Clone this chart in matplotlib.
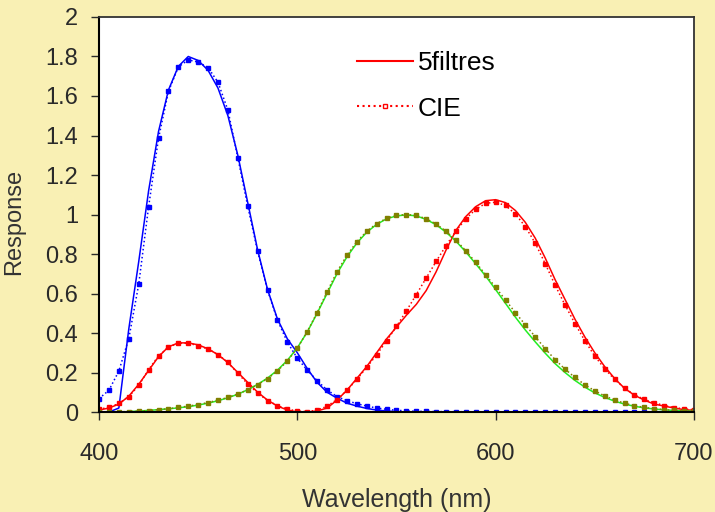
import matplotlib.pyplot as plt
from matplotlib.lines import Line2D

wavelength = list(range(400, 705, 5))

# CIE 1931 colour matching functions (5 nm)
cie_x = [0.0143, 0.0232, 0.0435, 0.0776, 0.1344, 0.2148, 0.2839, 0.3285, 0.3483, 0.3481,
         0.3362, 0.3187, 0.2908, 0.2511, 0.1954, 0.1421, 0.0956, 0.0580, 0.0320, 0.0147,
         0.0049, 0.0024, 0.0093, 0.0291, 0.0633, 0.1096, 0.1655, 0.2258, 0.2904, 0.3597,
         0.4335, 0.5121, 0.5945, 0.6784, 0.7621, 0.8425, 0.9163, 0.9786, 1.0263, 1.0567,
         1.0622, 1.0456, 1.0026, 0.9384, 0.8545, 0.7514, 0.6424, 0.5419, 0.4479, 0.3608,
         0.2835, 0.2187, 0.1649, 0.1212, 0.0874, 0.0636, 0.0468, 0.0329, 0.0227, 0.0158,
         0.0114]
cie_y = [0.0004, 0.0006, 0.0012, 0.0022, 0.0040, 0.0073, 0.0116, 0.0168, 0.0230, 0.0298,
         0.0380, 0.0480, 0.0600, 0.0739, 0.0910, 0.1126, 0.1390, 0.1693, 0.2080, 0.2586,
         0.3230, 0.4073, 0.5030, 0.6082, 0.7100, 0.7932, 0.8620, 0.9149, 0.9540, 0.9803,
         0.9950, 1.0000, 0.9950, 0.9786, 0.9520, 0.9154, 0.8700, 0.8163, 0.7570, 0.6949,
         0.6310, 0.5668, 0.5030, 0.4412, 0.3810, 0.3210, 0.2650, 0.2170, 0.1750, 0.1382,
         0.1070, 0.0816, 0.0610, 0.0446, 0.0320, 0.0232, 0.0170, 0.0119, 0.0082, 0.0057,
         0.0041]
cie_z = [0.0679, 0.1102, 0.2074, 0.3713, 0.6456, 1.0391, 1.3856, 1.6230, 1.7471, 1.7826,
         1.7721, 1.7441, 1.6692, 1.5281, 1.2876, 1.0419, 0.8130, 0.6162, 0.4652, 0.3533,
         0.2720, 0.2123, 0.1582, 0.1117, 0.0783, 0.0573, 0.0422, 0.0298, 0.0203, 0.0134,
         0.0088, 0.0058, 0.0039, 0.0028, 0.0021, 0.0018, 0.0017, 0.0014, 0.0011, 0.0010,
         0.0008, 0.0006, 0.0003, 0.0002, 0.0002, 0.0001, 0.0, 0.0, 0.0, 0.0,
         0.0, 0.0, 0.0, 0.0, 0.0, 0.0, 0.0, 0.0, 0.0, 0.0,
         0.0]

# 5-filter approximation
filt_x = [0.010, 0.020, 0.040, 0.080, 0.140, 0.210, 0.280, 0.330, 0.350, 0.350,
          0.340, 0.320, 0.290, 0.250, 0.200, 0.150, 0.100, 0.060, 0.030, 0.010,
          0.000, 0.000, 0.005, 0.020, 0.060, 0.110, 0.170, 0.230, 0.300, 0.370,
          0.430, 0.490, 0.545, 0.615, 0.710, 0.820, 0.920, 0.990, 1.040, 1.070,
          1.075, 1.060, 1.020, 0.960, 0.880, 0.780, 0.670, 0.570, 0.470, 0.380,
          0.300, 0.230, 0.170, 0.120, 0.085, 0.060, 0.040, 0.030, 0.020, 0.012,
          0.008]
filt_y = [0.000, 0.000, 0.000, 0.002, 0.005, 0.008, 0.012, 0.016, 0.021, 0.027,
          0.035, 0.045, 0.057, 0.072, 0.090, 0.113, 0.140, 0.172, 0.212, 0.262,
          0.325, 0.405, 0.500, 0.600, 0.700, 0.785, 0.855, 0.910, 0.950, 0.978,
          0.993, 0.998, 0.993, 0.975, 0.948, 0.910, 0.865, 0.810, 0.750, 0.688,
          0.620, 0.550, 0.480, 0.415, 0.355, 0.298, 0.245, 0.200, 0.160, 0.126,
          0.097, 0.074, 0.055, 0.040, 0.029, 0.021, 0.015, 0.011, 0.008, 0.006,
          0.004]
filt_z = [0.000, 0.000, 0.020, 0.420, 0.760, 1.120, 1.420, 1.630, 1.750, 1.800,
          1.780, 1.730, 1.640, 1.500, 1.300, 1.060, 0.820, 0.620, 0.470, 0.370,
          0.300, 0.220, 0.150, 0.100, 0.070, 0.045, 0.030, 0.018, 0.010, 0.005,
          0.002, 0.000, 0.000, 0.000, 0.000, 0.000, 0.000, 0.000, 0.000, 0.000,
          0.000, 0.000, 0.000, 0.000, 0.000, 0.000, 0.000, 0.000, 0.000, 0.000,
          0.000, 0.000, 0.000, 0.000, 0.000, 0.000, 0.000, 0.000, 0.000, 0.000,
          0.000]

y_ticks = [0, 0.2, 0.4, 0.6, 0.8, 1, 1.2, 1.4, 1.6, 1.8, 2]
y_tick_labels = ['0', '0.2', '0.4', '0.6', '0.8', '1', '1.2', '1.4', '1.6', '1.8', '2']
x_ticks = [400, 500, 600, 700]

plt.rcParams['font.family'] = ['Liberation Sans', 'DejaVu Sans']

fig = plt.figure(figsize=(7.15, 5.12), dpi=100, facecolor='#f9f0b4')
ax = fig.add_axes([0.1385, 0.1953, 0.832, 0.7715])
ax.set_facecolor('white')

# filter curves
ax.plot(wavelength, filt_z, color='#0000ff', lw=1.1)
ax.plot(wavelength, filt_x, color='#ff0000', lw=1.1)
ax.plot(wavelength, filt_y, color='#22ee22', lw=1.1)

# CIE curves
ax.plot(wavelength, cie_z, color='#0000ff', ls=':', lw=1.1, marker='s', ms=3.2)
ax.plot(wavelength, cie_x, color='#ff0000', ls=':', lw=1.1, marker='s', ms=3.2)
ax.plot(wavelength, cie_y, color='#808000', ls=':', lw=1.1, marker='s', ms=3.2)

ax.set_xlim(400, 700)
ax.set_ylim(0, 2)
ax.set_xticks(x_ticks)
ax.set_yticks(y_ticks)
ax.set_yticklabels(y_tick_labels)
ax.tick_params(axis='y', direction='out', length=6, width=1, pad=9, labelsize=17, colors='#2a2a2a')
ax.tick_params(axis='x', direction='out', length=6, width=1, pad=16, labelsize=17, colors='#2a2a2a')
ax.tick_params(top=False, right=False)

for side in ['left', 'bottom']:
    ax.spines[side].set_color('black')
    ax.spines[side].set_linewidth(1.5)
for side in ['top', 'right']:
    ax.spines[side].set_color('#333333')
    ax.spines[side].set_linewidth(1.3)

ax.set_xlabel('Wavelength (nm)', fontsize=18, color='#333333', labelpad=17)
ax.set_ylabel('Response', fontsize=17, color='#333333')
ax.yaxis.set_label_coords(-0.124, 0.48)

handles = [
    Line2D([], [], color='#ff0000', lw=1.5),
    Line2D([], [], color='#ff0000', ls=':', lw=1.5, marker='s', ms=3.5, mfc='white'),
]
ax.legend(handles, ['5filtres', 'CIE'], loc='upper left', bbox_to_anchor=(0.434, 0.914),
          frameon=False, fontsize=19, handlelength=2.1, handletextpad=0.2,
          labelspacing=0.82, borderpad=0, borderaxespad=0)

fig.savefig('out.png', dpi=100, facecolor=fig.get_facecolor())
